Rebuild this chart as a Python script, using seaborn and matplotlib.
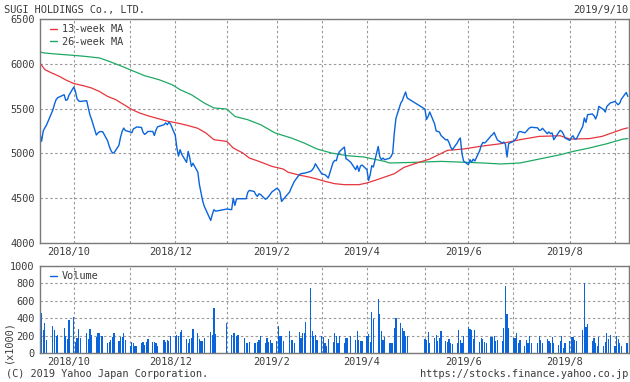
import matplotlib
matplotlib.use('Agg')
import matplotlib.pyplot as plt
from matplotlib.lines import Line2D
from matplotlib.transforms import ScaledTranslation
import numpy as np
import pandas as pd
import seaborn as sns

# TSE holidays that fall on weekdays in the period
HOLIDAYS = ['2018-09-17', '2018-09-24', '2018-10-08', '2018-11-23', '2018-12-24',
            '2018-12-31', '2019-01-01', '2019-01-02', '2019-01-03', '2019-01-14',
            '2019-02-11', '2019-03-21', '2019-04-29', '2019-04-30', '2019-05-01',
            '2019-05-02', '2019-05-03', '2019-05-06', '2019-07-15', '2019-08-12']

# daily close, one list per month
close_2018_09 = [5220, 5135, 5250, 5285, 5315, 5485, 5550, 5600, 5622, 5655, 5592, 5600, 5650]
close_2018_10 = [5741, 5692, 5610, 5585, 5580, 5588, 5506, 5430, 5380, 5205, 5228, 5242, 5244, 5240,
                 5140, 5080, 5035, 5004, 5008, 5090, 5180, 5245]
close_2018_11 = [5283, 5255, 5240, 5230, 5275, 5283, 5295, 5290, 5235, 5212, 5226, 5245, 5245, 5200,
                 5260, 5297, 5320, 5340, 5320, 5346, 5330]
close_2018_12 = [5200, 5060, 4970, 5041, 4990, 4900, 5022, 4950, 4855, 4890, 4790, 4650, 4560, 4470,
                 4410, 4252, 4320, 4372, 4355]
close_2019_01 = [4379, 4372, 4500, 4420, 4490, 4494, 4494, 4494, 4565, 4587, 4575, 4540, 4520, 4550,
                 4540, 4488, 4500, 4520, 4545]
close_2019_02 = [4570, 4610, 4600, 4570, 4464, 4485, 4570, 4614, 4651, 4690, 4762, 4773, 4776, 4780,
                 4783, 4799, 4815, 4840, 4885]
close_2019_03 = [4855, 4770, 4766, 4762, 4745, 4725, 4900, 4922, 4919, 4985, 5022, 5071, 4940, 4930,
                 4900, 4818, 4863, 4799, 4860, 4870]
close_2019_04 = [4818, 4699, 4760, 4863, 4848, 5078, 4960, 4930, 4948, 4930, 4945, 4966, 5004, 5228,
                 5390, 5560, 5590, 5640, 5685, 5618]
close_2019_05 = [5495, 5380, 5413, 5462, 5330, 5250, 5245, 5238, 5200, 5150, 5155, 5120, 5070, 5041,
                 5115, 5150, 5172, 5000, 4915]
close_2019_06 = [4874, 4930, 4900, 4937, 4915, 5030, 5090, 5123, 5116, 5130, 5195, 5210, 5234, 5190,
                 5150, 5115, 5127, 5100, 4960, 5110]
close_2019_07 = [5134, 5153, 5172, 5234, 5245, 5230, 5245, 5268, 5285, 5292, 5285, 5258, 5260, 5280,
                 5220, 5240, 5220, 5228, 5153, 5230, 5257, 5245]
close_2019_08 = [5216, 5172, 5145, 5180, 5197, 5160, 5160, 5301, 5395, 5346, 5432, 5440, 5420, 5384,
                 5432, 5525, 5488, 5462, 5525, 5543, 5562]
close_2019_09 = [5580, 5560, 5543, 5562, 5606, 5680, 5636]

# daily volume (x1000), one list per month
vol_2018_09 = [180, 460, 260, 340, 150, 315, 270, 200, 210, 290, 200, 165, 375]
vol_2018_10 = [415, 130, 170, 280, 170, 225, 165, 280, 210, 180, 225, 235, 190, 200,
               115, 125, 150, 180, 225, 135, 180, 180]
vol_2018_11 = [235, 150, 85, 130, 120, 75, 85, 115, 130, 90, 130, 165, 130, 130,
               110, 75, 145, 130, 150, 140, 200]
vol_2018_12 = [195, 205, 190, 245, 270, 160, 120, 165, 175, 280, 230, 165, 140, 135,
               170, 245, 210, 520, 220]
vol_2019_01 = [340, 205, 225, 235, 200, 210, 175, 120, 115, 130, 110, 120, 130, 145,
               200, 110, 170, 130, 145]
vol_2019_02 = [110, 135, 305, 200, 200, 140, 255, 145, 155, 110, 245, 170, 235, 235,
               360, 750, 255, 190, 210]
vol_2019_03 = [155, 195, 185, 115, 80, 160, 130, 235, 190, 120, 190, 120, 175, 175,
               200, 145, 255, 155, 135, 135]
vol_2019_04 = [200, 220, 130, 470, 390, 620, 450, 250, 155, 180, 120, 120, 120, 290,
               400, 350, 290, 250, 200, 195]
vol_2019_05 = [165, 145, 245, 110, 175, 205, 140, 175, 250, 140, 130, 165, 110, 105,
               115, 265, 155, 120, 195]
vol_2019_06 = [300, 280, 260, 160, 270, 130, 175, 160, 130, 120, 185, 180, 200, 140,
               150, 140, 285, 775, 450, 290]
vol_2019_07 = [175, 170, 225, 110, 155, 85, 150, 115, 190, 120, 110, 200, 150, 110,
               160, 140, 110, 185, 120, 90, 135, 190]
vol_2019_08 = [60, 120, 140, 185, 180, 150, 135, 270, 810, 300, 330, 140, 170, 120,
               80, 185, 80, 130, 225, 160, 210]
vol_2019_09 = [80, 195, 165, 115, 80, 115, 120]

# moving averages
ma13_dates = ['2018-09-10', '2018-09-13', '2018-09-17', '2018-09-22', '2018-09-26', '2018-10-01',
              '2018-10-07', '2018-10-12', '2018-10-17', '2018-10-22', '2018-10-27', '2018-11-01',
              '2018-11-06', '2018-11-11', '2018-11-16', '2018-11-21', '2018-11-28', '2018-12-04',
              '2018-12-10', '2018-12-17', '2018-12-22', '2018-12-27', '2019-01-04', '2019-01-08',
              '2019-01-14', '2019-01-18', '2019-01-24', '2019-02-01', '2019-02-08', '2019-02-11',
              '2019-02-17', '2019-02-24', '2019-03-01', '2019-03-06', '2019-03-12', '2019-03-18',
              '2019-03-27', '2019-04-01', '2019-04-06', '2019-04-12', '2019-04-18', '2019-04-24',
              '2019-05-02', '2019-05-10', '2019-05-21', '2019-05-31', '2019-06-10', '2019-06-23',
              '2019-07-05', '2019-07-17', '2019-07-30', '2019-08-05', '2019-08-17', '2019-08-25',
              '2019-08-31', '2019-09-07', '2019-09-10']
ma13_values = [6010, 5935, 5900, 5860, 5820, 5780, 5755, 5730, 5690, 5636, 5600, 5545,
               5490, 5450, 5420, 5395, 5360, 5340, 5315, 5280, 5228, 5153, 5134, 5060,
               5004, 4948, 4911, 4855, 4826, 4790, 4762, 4736, 4714, 4688, 4662, 4651,
               4651, 4670, 4699, 4736, 4773, 4844, 4893, 4937, 5034, 5049, 5078, 5108,
               5153, 5190, 5197, 5160, 5165, 5190, 5228, 5272, 5285]

ma26_dates = ['2018-09-10', '2018-09-13', '2018-09-20', '2018-10-01', '2018-10-08', '2018-10-17',
              '2018-10-23', '2018-10-31', '2018-11-06', '2018-11-14', '2018-11-23', '2018-12-01',
              '2018-12-06', '2018-12-13', '2018-12-21', '2018-12-27', '2019-01-04', '2019-01-09',
              '2019-01-17', '2019-01-25', '2019-02-03', '2019-02-13', '2019-02-21', '2019-03-01',
              '2019-03-10', '2019-03-20', '2019-03-30', '2019-04-12', '2019-04-15', '2019-05-01',
              '2019-05-17', '2019-06-02', '2019-06-12', '2019-06-23', '2019-07-05', '2019-07-17',
              '2019-07-30', '2019-08-07', '2019-08-17', '2019-08-28', '2019-09-07', '2019-09-10']
ma26_values = [6131, 6120, 6109, 6094, 6083, 6065, 6027, 5971, 5926, 5867, 5822, 5767,
               5711, 5655, 5562, 5507, 5495, 5413, 5376, 5320, 5228, 5172, 5116, 5049,
               5004, 4974, 4960, 4911, 4893, 4900, 4911, 4900, 4893, 4882, 4893, 4937,
               4985, 5022, 5060, 5108, 5160, 5165]

grid_dates = ['2018-10-01', '2018-11-05', '2018-12-03', '2019-01-04', '2019-02-04', '2019-03-04',
              '2019-04-01', '2019-05-07', '2019-06-03', '2019-07-01', '2019-08-05', '2019-09-02']
grid_labels = ['2018/10', '', '2018/12', '', '2019/2', '', '2019/4', '', '2019/6', '', '2019/8', '']

BLUE = '#0a64dc'
RED = '#e8343c'
GREEN = '#1ea864'
TEXT = '#3c3c3c'
FRAME = '#7a7a7a'
GRID = '#9a9a9a'


def style_axis(ax, fig):
    for sp in ax.spines.values():
        sp.set_color(FRAME)
        sp.set_linewidth(1.0)
    ax.tick_params(axis='both', length=0, colors=TEXT, labelsize=7.4)
    ax.tick_params(axis='y', pad=4)
    ax.tick_params(axis='x', pad=3)
    ax.grid(True, color=GRID, linestyle=(0, (2.2, 2.2)), linewidth=0.8)
    ax.set_axisbelow(True)
    ax.set_xticks(pd.to_datetime(grid_dates))
    ax.set_xticklabels(grid_labels)
    shift = ScaledTranslation(-5 / 100, 0, fig.dpi_scale_trans)
    for lab in ax.get_xticklabels():
        lab.set_transform(lab.get_transform() + shift)
    ax.set_xlim(pd.Timestamp('2018-09-10 00:00'), pd.Timestamp('2019-09-10 10:00'))
    ax.set_xlabel('')
    ax.set_ylabel('')


def main():
    sns.set_theme(style='white')
    plt.rcParams['font.family'] = ['DejaVu Sans Mono']

    days = pd.bdate_range('2018-09-10', '2019-09-10', freq='C', holidays=HOLIDAYS)
    close = (close_2018_09 + close_2018_10 + close_2018_11 + close_2018_12 + close_2019_01 +
             close_2019_02 + close_2019_03 + close_2019_04 + close_2019_05 + close_2019_06 +
             close_2019_07 + close_2019_08 + close_2019_09)
    volume = (vol_2018_09 + vol_2018_10 + vol_2018_11 + vol_2018_12 + vol_2019_01 +
              vol_2019_02 + vol_2019_03 + vol_2019_04 + vol_2019_05 + vol_2019_06 +
              vol_2019_07 + vol_2019_08 + vol_2019_09)
    df = pd.DataFrame({'date': days, 'close': close, 'volume': volume})
    ma13 = pd.DataFrame({'date': pd.to_datetime(ma13_dates), 'value': ma13_values})
    ma26 = pd.DataFrame({'date': pd.to_datetime(ma26_dates), 'value': ma26_values})

    fig = plt.figure(figsize=(6.3, 3.82), dpi=100)
    ax1 = fig.add_axes([40 / 630, 1 - 243 / 382, 588.5 / 630, 224 / 382])
    ax2 = fig.add_axes([40 / 630, 1 - 353 / 382, 588.5 / 630, 87 / 382])

    sns.lineplot(data=ma26, x='date', y='value', ax=ax1, color=GREEN, linewidth=0.9, label='26-week MA')
    sns.lineplot(data=ma13, x='date', y='value', ax=ax1, color=RED, linewidth=0.9, label='13-week MA')
    sns.lineplot(data=df, x='date', y='close', ax=ax1, color=BLUE, linewidth=1.0)
    ax1.set_ylim(4000, 6500)
    ax1.set_yticks([4000, 4500, 5000, 5500, 6000, 6500])
    style_axis(ax1, fig)
    handles = [Line2D([], [], color=RED, lw=1.0), Line2D([], [], color=GREEN, lw=1.0)]
    leg = ax1.legend(handles, ['13-week MA', '26-week MA'], loc='upper left', frameon=False,
                     handlelength=0.6, handletextpad=0.5, labelspacing=0.25, fontsize=7.4,
                     borderaxespad=0.2, borderpad=0.3, bbox_to_anchor=(0.009, 1.0))
    for t in leg.get_texts():
        t.set_color(TEXT)

    ax2.bar(df['date'], df['volume'], width=0.75, color=BLUE, linewidth=0)
    ax2.set_ylim(0, 1000)
    ax2.set_yticks([0, 200, 400, 600, 800, 1000])
    style_axis(ax2, fig)
    leg2 = ax2.legend([Line2D([], [], color=BLUE, lw=1.0)], ['Volume'], loc='upper left',
                      frameon=False, handlelength=0.6, handletextpad=0.5, fontsize=7.4,
                      borderaxespad=0.2, borderpad=0.3, bbox_to_anchor=(0.009, 1.0))
    for t in leg2.get_texts():
        t.set_color(TEXT)

    fs = 7.4
    fig.text(4 / 630, 1 - 9.5 / 382, 'SUGI HOLDINGS Co., LTD.', ha='left', va='center', fontsize=fs, color=TEXT)
    fig.text(628 / 630, 1 - 9.5 / 382, '2019/9/10', ha='right', va='center', fontsize=fs, color=TEXT)
    fig.text(6 / 630, 1 - 374 / 382, '(C) 2019 Yahoo Japan Corporation.', ha='left', va='center',
             fontsize=fs, color=TEXT)
    fig.text(628 / 630, 1 - 374 / 382, 'https://stocks.finance.yahoo.co.jp', ha='right', va='center',
             fontsize=fs, color=TEXT)
    fig.text(8 / 630, 1 - 342 / 382, '(x1000)', ha='center', va='center', rotation=90,
             fontsize=fs, color=TEXT)

    fig.savefig('out.png', dpi=100, facecolor='white')
    plt.close(fig)


if __name__ == '__main__':
    main()
